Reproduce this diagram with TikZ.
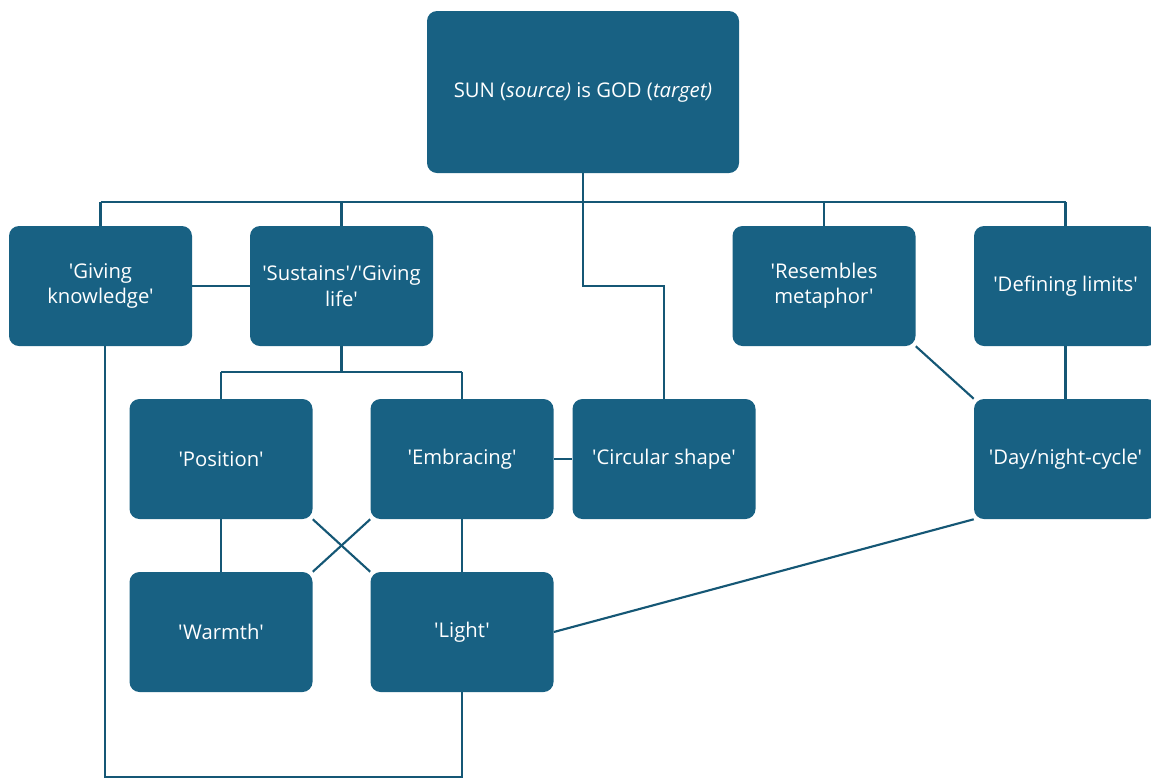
\documentclass[tikz,border=0pt]{standalone}
\usepackage{fontspec}
\setmainfont{Open Sans}[Ligatures=TeXOff]
\usetikzlibrary{backgrounds}
\definecolor{boxblue}{HTML}{186183}
\definecolor{linkblue}{HTML}{155775}
\tikzset{
  concept/.style={rectangle, rounded corners=7.5pt, fill=boxblue, text=white,
    minimum width=137.25pt, minimum height=90pt, align=center, inner sep=2pt,
    font=\fontsize{15.2}{19}\selectfont},
  link/.style={draw=linkblue, line width=1.6pt}
}
\begin{document}
\begin{tikzpicture}[x=0.75pt, y=-0.75pt]
\clip (0,0) rectangle (1151,779);
% central metaphor
\node[concept, minimum width=234pt, minimum height=121.5pt] (sun) at (583,92)
  {SUN (\textit{source)} is GOD (\textit{target)}};
% first tier
\node[concept] (gk)  at (100.5,286) {'Giving\\knowledge'};
\node[concept] (sus) at (341.5,286) {'Sustains'/'Giving\\life'};
\node[concept] (res) at (824,286)   {'Resembles\\metaphor'};
\node[concept] (def) at (1065.5,286) {'Defining limits'};
% second tier
\node[concept] (pos)  at (221,459)    {'Position'};
\node[concept] (emb)  at (462,459)    {'Embracing'};
\node[concept] (circ) at (664,459)    {'Circular shape'};
\node[concept] (day)  at (1065.5,459) {'Day/night-cycle'};
% third tier
\node[concept] (warm)  at (221,632) {'Warmth'};
\node[concept] (light) at (462,632) {'Light'};
% bend points of the routed connectors
\coordinate (bus) at (583,202);
\coordinate (subbus) at (341.5,372);
\coordinate (kbase) at (105,777);
\begin{scope}[on background layer]
  % tree from the central metaphor
  \draw[link] (sun.south) -- (bus);
  \draw[link] (bus -| gk.north) -- (bus -| def.north);
  \foreach \n in {gk, sus, res, def} \draw[link] (bus -| \n.north) -- (\n.north);
  \draw[link] (bus) -- (583,286) -| (circ.north);
  % lateral links
  \draw[link] (gk.east) -- (sus.west);
  \draw[link] (emb.east) -- (circ.west);
  % sustaining life branches
  \draw[link] (sus.south) -- (subbus);
  \draw[link] (subbus -| pos.north) -- (subbus -| emb.north);
  \draw[link] (subbus -| pos.north) -- (pos.north);
  \draw[link] (subbus -| emb.north) -- (emb.north);
  \draw[link] (pos.south) -- (warm.north);
  \draw[link] (emb.south) -- (light.north);
  \draw[link] (pos.south east) -- (light.north west);
  \draw[link] (emb.south west) -- (warm.north east);
  % cycle links
  \draw[link] (res.south east) -- (day.north west);
  \draw[link] (def.south) -- (day.north);
  \draw[link] (day.south west) -- (light.east);
  % knowledge to light
  \draw[link] (gk.south -| kbase) -- (kbase) -| (light.south);
\end{scope}
\end{tikzpicture}
\end{document}
